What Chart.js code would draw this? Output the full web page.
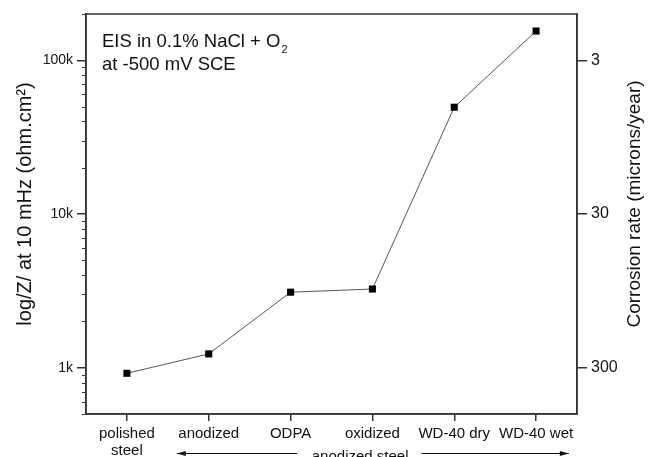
<!DOCTYPE html>
<html>
<head>
<meta charset="utf-8">
<script src="https://cdn.jsdelivr.net/npm/chart.js@4.4.1/dist/chart.umd.min.js"></script>
<style>
  html, body { margin: 0; padding: 0; background: #fff; }
  #wrap { width: 648px; height: 457px; }
</style>
</head>
<body>
<div id="wrap"><canvas id="eisChart" width="648" height="457"></canvas></div>
<script>
// EIS impedance at 10 mHz per surface treatment
const samples = [['polished', 'steel'], 'anodized', 'ODPA', 'oxidized', 'WD-40 dry', 'WD-40 wet'];
const impedance = [920, 1230, 3100, 3250, 49500, 155000];
const impedanceTicks = [1000, 10000, 100000];
const rateTicks = [3, 30, 300];
const zMin = 500;
const zMax = 200000;
const RATE_FACTOR = 3e5; // corrosion rate (um/yr) = RATE_FACTOR / |Z|

const FONT = "'Liberation Sans', Arial, sans-serif";
const AXIS_COLOR = '#333';
const TEXT_COLOR = '#111';

// minor tick marks on the left log axis
const minorTicks = {
  id: 'minorTicks',
  afterDraw(chart) {
    const ctx = chart.ctx;
    const y = chart.scales.y;
    const left = chart.chartArea.left;
    ctx.save();
    ctx.strokeStyle = AXIS_COLOR;
    ctx.lineWidth = 1;
    for (let d = 100; d <= zMax; d *= 10) {
      for (let k = 2; k <= 9; k++) {
        const v = k * d;
        if (v < zMin || v > zMax) continue;
        const py = Math.round(y.getPixelForValue(v)) + 0.5;
        ctx.beginPath();
        ctx.moveTo(left - 4, py);
        ctx.lineTo(left, py);
        ctx.stroke();
      }
    }
    ctx.restore();
  }
};

function verticalText(ctx, text, x, y, size) {
  ctx.save();
  ctx.translate(x, y);
  ctx.rotate(-Math.PI / 2);
  ctx.font = size + 'px ' + FONT;
  ctx.textAlign = 'center';
  ctx.textBaseline = 'middle';
  ctx.fillText(text, 0, 0);
  ctx.restore();
}

// plot frame, axis titles, caption and the "anodized steel" arrows
const decorations = {
  id: 'decorations',
  afterDraw(chart) {
    const ctx = chart.ctx;
    const area = chart.chartArea;
    const x = chart.scales.x;
    ctx.save();
    ctx.strokeStyle = AXIS_COLOR;
    ctx.lineWidth = 1.5;
    ctx.strokeRect(area.left, area.top, area.right - area.left, area.bottom - area.top);

    ctx.fillStyle = TEXT_COLOR;
    verticalText(ctx, 'log/Z/ at 10 mHz (ohm.cm²)', 25, 204, 20);
    verticalText(ctx, 'Corrosion rate (microns/year)', 635, 204, 19);

    ctx.font = '18.5px ' + FONT;
    ctx.textBaseline = 'alphabetic';
    const tx = area.left + 16;
    const line1 = 'EIS in 0.1% NaCl + O';
    ctx.fillText(line1, tx, 47);
    const w = ctx.measureText(line1).width;
    ctx.font = '11px ' + FONT;
    ctx.fillText('2', tx + w + 1, 53);
    ctx.font = '18.5px ' + FONT;
    ctx.fillText('at -500 mV SCE', tx, 70);

    // arrows below the category labels
    const ay = 453.5;
    const l0 = x.getPixelForValue(0.61);
    const l1 = x.getPixelForValue(2.08);
    const r0 = x.getPixelForValue(3.6);
    const r1 = x.getPixelForValue(5.4);
    ctx.lineWidth = 1;
    ctx.strokeStyle = TEXT_COLOR;
    ctx.beginPath();
    ctx.moveTo(l0, ay); ctx.lineTo(l1, ay);
    ctx.moveTo(r0, ay); ctx.lineTo(r1, ay);
    ctx.stroke();
    ctx.beginPath();
    ctx.moveTo(l0, ay); ctx.lineTo(l0 + 9, ay - 2.5); ctx.lineTo(l0 + 9, ay + 2.5); ctx.closePath();
    ctx.moveTo(r1, ay); ctx.lineTo(r1 - 9, ay - 2.5); ctx.lineTo(r1 - 9, ay + 2.5); ctx.closePath();
    ctx.fill();

    ctx.font = '15px ' + FONT;
    ctx.textAlign = 'center';
    ctx.textBaseline = 'alphabetic';
    ctx.fillText('anodized steel', x.getPixelForValue(2.85), 461);
    ctx.restore();
  }
};

new Chart(document.getElementById('eisChart'), {
  type: 'line',
  data: {
    labels: samples,
    datasets: [{
      data: impedance,
      yAxisID: 'y',
      borderColor: '#555',
      borderWidth: 1,
      tension: 0,
      pointStyle: 'rect',
      pointRadius: 5,
      pointBorderWidth: 0,
      pointBackgroundColor: '#000',
      pointBorderColor: '#000'
    }]
  },
  options: {
    responsive: false,
    animation: false,
    layout: { padding: { top: 14, left: 0, right: 0, bottom: 0 } },
    plugins: {
      legend: { display: false },
      tooltip: { enabled: false }
    },
    scales: {
      x: {
        type: 'category',
        offset: true,
        grid: { display: true, offset: false, drawOnChartArea: false, tickLength: 7, color: AXIS_COLOR, lineWidth: 1.5 },
        border: { display: true, color: AXIS_COLOR, width: 1.5 },
        ticks: { color: TEXT_COLOR, font: { family: FONT, size: 15, lineHeight: 1.17 }, padding: 4, maxRotation: 0, autoSkip: false },
        afterFit(scale) { scale.height = 43; }
      },
      y: {
        type: 'logarithmic',
        position: 'left',
        min: zMin,
        max: zMax,
        grid: { drawOnChartArea: false, tickLength: 9, color: AXIS_COLOR, lineWidth: 1.5 },
        border: { display: true, color: AXIS_COLOR, width: 1.5 },
        afterBuildTicks(scale) { scale.ticks = impedanceTicks.map(v => ({ value: v })); },
        ticks: {
          color: TEXT_COLOR, font: { family: FONT, size: 14 }, padding: 4,
          callback: v => (v / 1000) + 'k'
        },
        afterFit(scale) { scale.width = 86; }
      },
      y2: {
        type: 'logarithmic',
        position: 'right',
        reverse: true,
        min: RATE_FACTOR / zMax,
        max: RATE_FACTOR / zMin,
        grid: { drawOnChartArea: false, tickLength: 10, color: AXIS_COLOR, lineWidth: 1.5 },
        border: { display: true, color: AXIS_COLOR, width: 1.5 },
        afterBuildTicks(scale) { scale.ticks = rateTicks.map(v => ({ value: v })); },
        ticks: { color: TEXT_COLOR, font: { family: FONT, size: 16 }, padding: 4, callback: v => String(v) },
        afterFit(scale) { scale.width = 71; }
      }
    }
  },
  plugins: [minorTicks, decorations]
});
</script>
</body>
</html>
